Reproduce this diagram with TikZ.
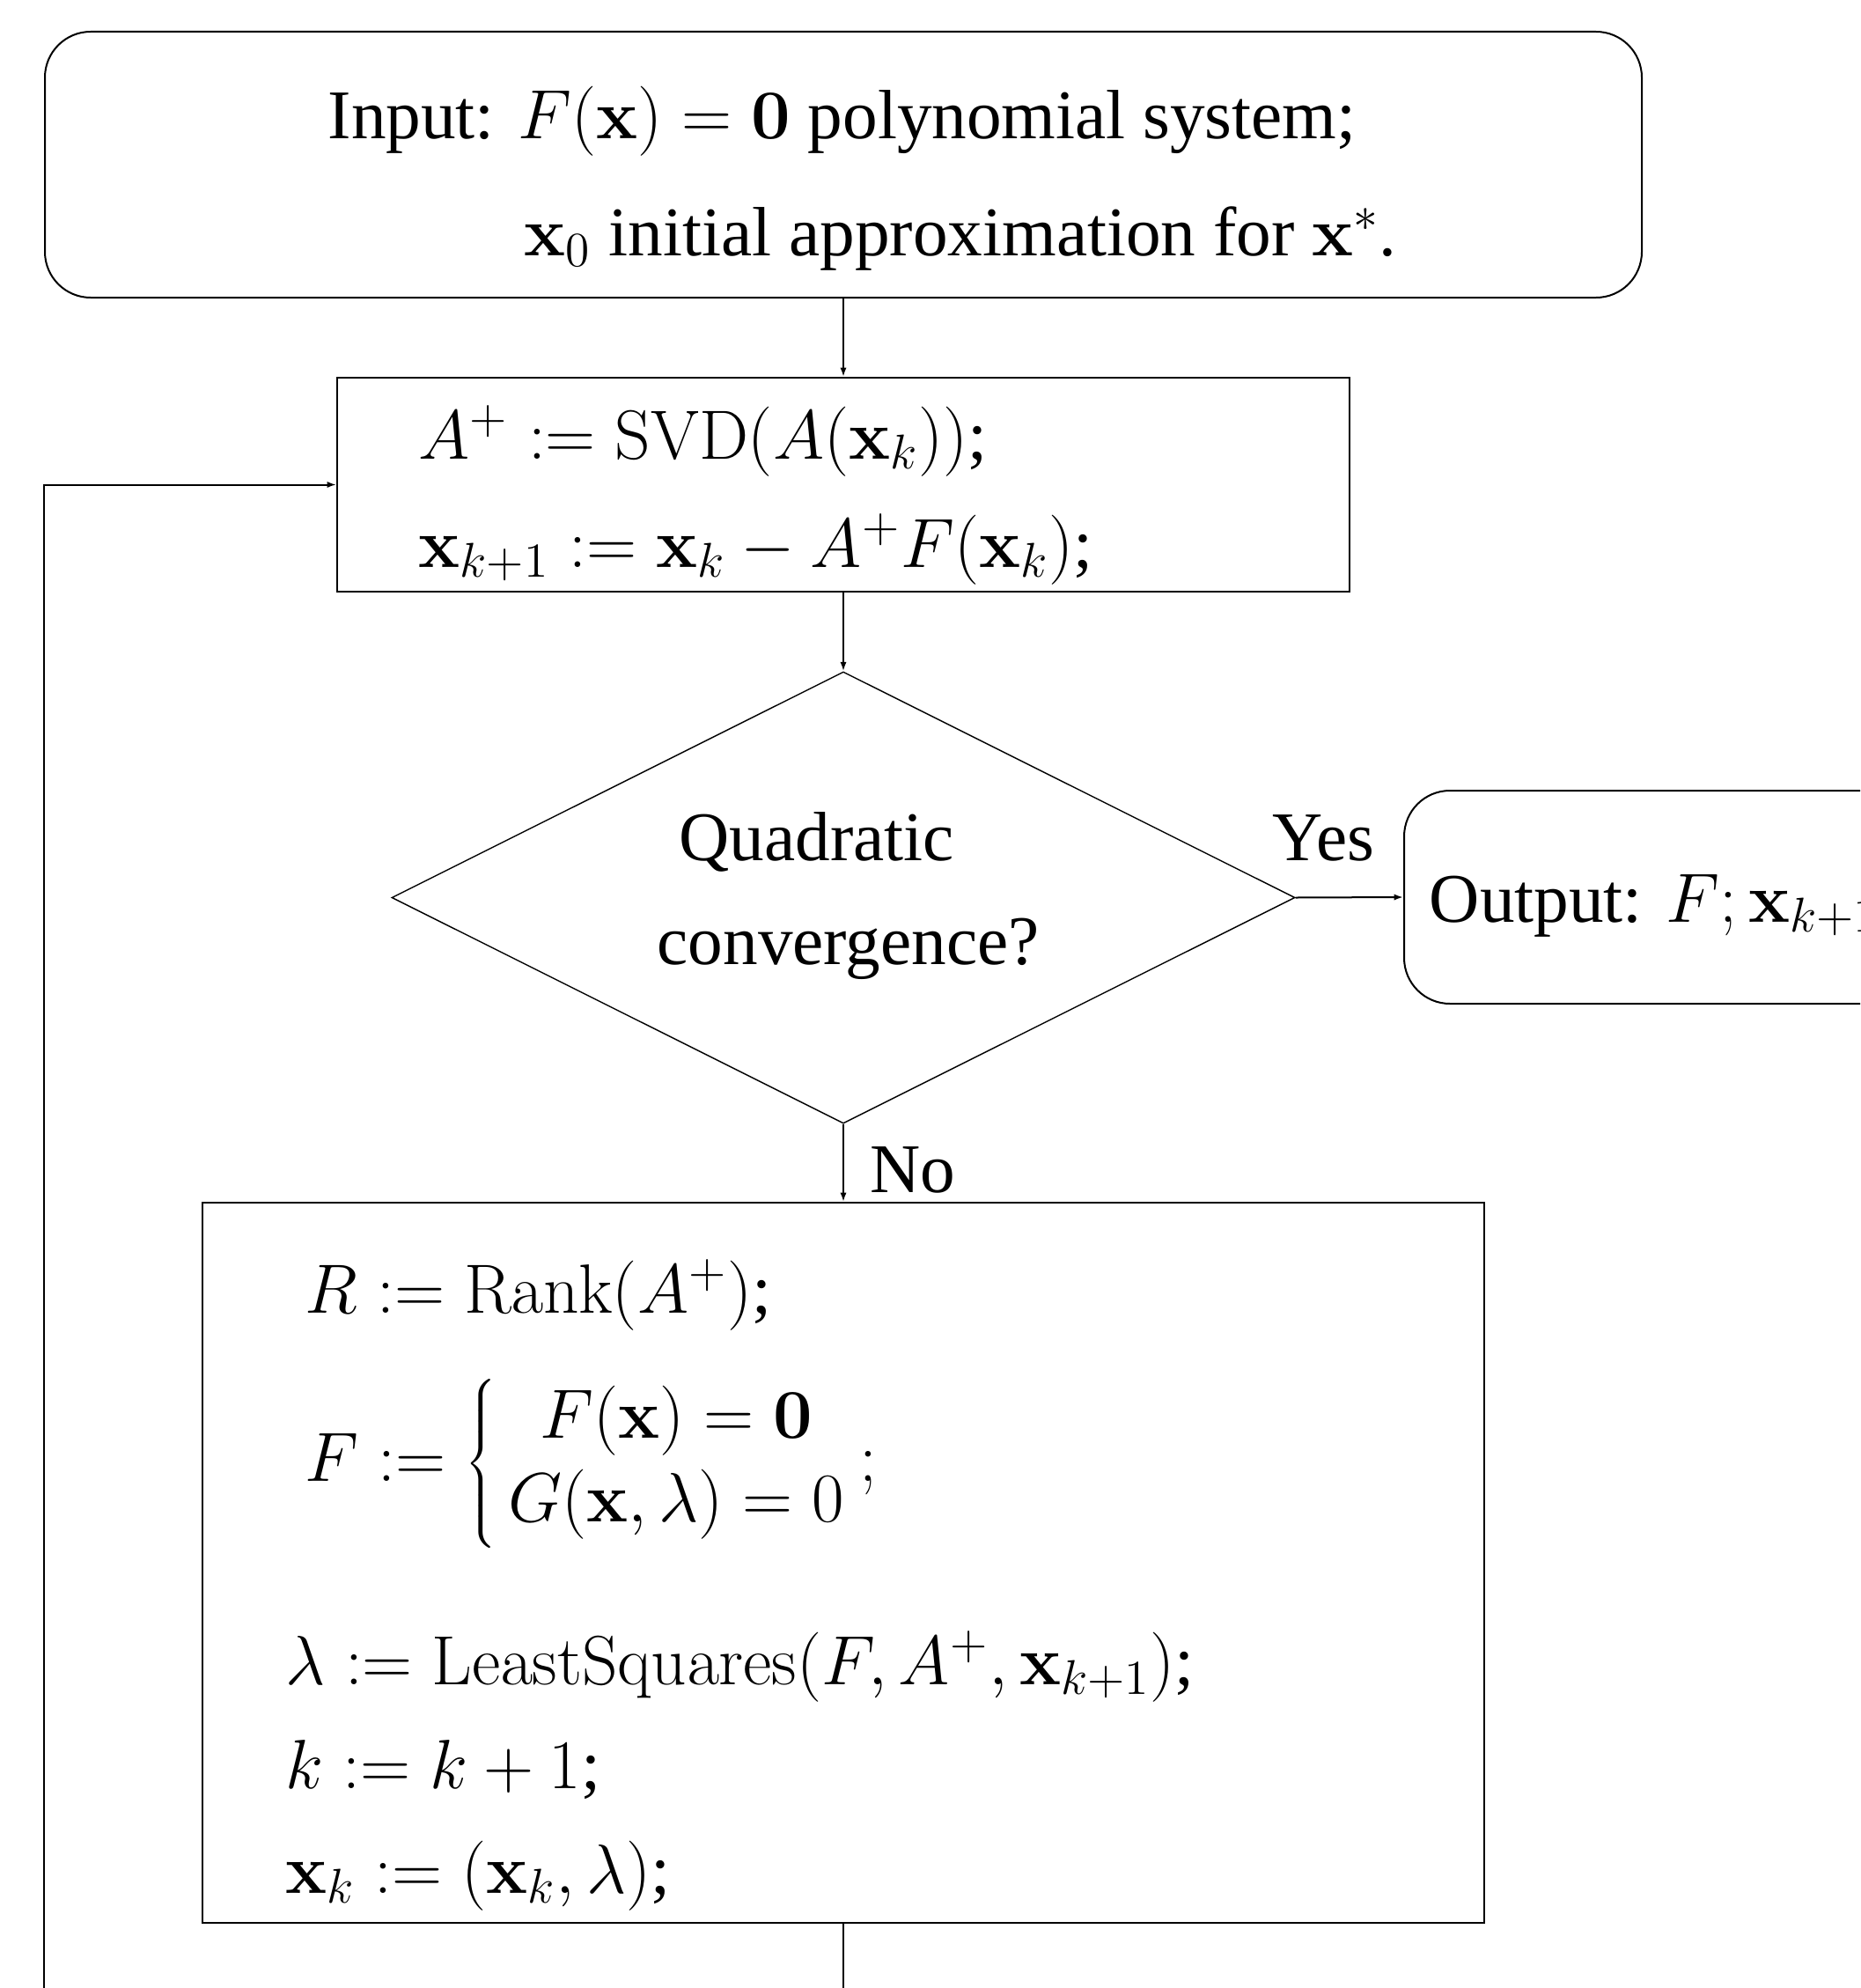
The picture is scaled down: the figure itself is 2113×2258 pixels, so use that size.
\RequirePackage{fix-cm}
\documentclass[tikz,border=0pt]{standalone}
\usepackage[no-math]{fontspec}
\setmainfont{Liberation Serif}
\usetikzlibrary{shapes.geometric,arrows.meta}

\begin{document}
\begin{tikzpicture}[x=0.25pt,y=-0.25pt,
  every node/.style={font=\fontsize{19.8}{23.8}\selectfont},
  stepbox/.style={draw, rectangle, line width=0.5pt, inner sep=0pt},
  roundbox/.style={stepbox, rounded corners=13pt},
  decision/.style={draw, diamond, line width=0.35pt, inner sep=0pt},
  txt/.style={anchor=base west, inner sep=0pt},
  flow/.style={line width=0.5pt, -{Latex[length=2.6pt,width=1.8pt]}}]

\useasboundingbox (0,0) rectangle (2113,2258);
\clip (0,0) rectangle (2113,2258);

% input box
\node[roundbox, minimum width=453.5pt, minimum height=75.5pt] (input) at (958,187) {};
\node[txt] (in1) at (372,158) {Input: $F(\mathbf{x})=\mathbf{0}$ polynomial system;};
\node[txt] (in2) at (595,291) {$\mathbf{x}_0$ initial approximation for $\mathbf{x}^*$.};

% Newton step
\node[stepbox, minimum width=287.5pt, minimum height=60.75pt] (svd) at (958,550.5) {};
\node[txt] (svd1) at (475,521) {$A^+ := \mathrm{SVD}(A(\mathbf{x}_k))$;};
\node[txt] (svd2) at (475,644) {$\mathbf{x}_{k+1} := \mathbf{x}_k - A^+F(\mathbf{x}_k)$;};

% convergence test
\node[decision, minimum width=256.5pt, minimum height=128.25pt] (test) at (958,1019.5) {};
\node[txt] (q1) at (771,977) {Quadratic};
\node[txt] (q2) at (746,1095) {convergence?};

% output
\node[roundbox, minimum width=201.25pt, minimum height=60.5pt] (out) at (1997.5,1019) {};
\node[txt] (outtxt) at (1623,1047) {Output: $F;\mathbf{x}_{k+1}$};

% deflation step
\node[stepbox, minimum width=364pt, minimum height=204.5pt] (body) at (958,1775) {};
\node[txt] (b1) at (346,1491) {$R := \mathrm{Rank}(A^+)$;};
\node[txt] (b2) at (346,1682) {$F := \left\{\begin{array}{@{\,}c@{}} F(\mathbf{x})=\mathbf{0}\\ G(\mathbf{x},\lambda)=0\end{array}\right.;$};
\node[txt] (b3) at (324,1913) {$\lambda := \mathrm{LeastSquares}(F,A^+,\mathbf{x}_{k+1})$;};
\node[txt] (b4) at (324,2031) {$k := k+1$;};
\node[txt] (b5) at (324,2150) {$\mathbf{x}_k := (\mathbf{x}_k,\lambda)$;};

% branch labels
\node[txt] (yes) at (1445,977) {Yes};
\node[txt] (no) at (988,1354) {No};

% connectors
\draw[flow] (input.south) -- (svd.north);
\draw[flow] (svd.south) -- (test.north);
\draw[flow] (test.east) -- (out.west);
\draw[flow] (test.south) -- (body.north);
\coordinate (loopR) at (958,2330);
\coordinate (loopL) at (50,2330);
\draw[flow] (body.south) -- (loopR) -- (loopL) |- (svd.west);
\end{tikzpicture}
\end{document}
